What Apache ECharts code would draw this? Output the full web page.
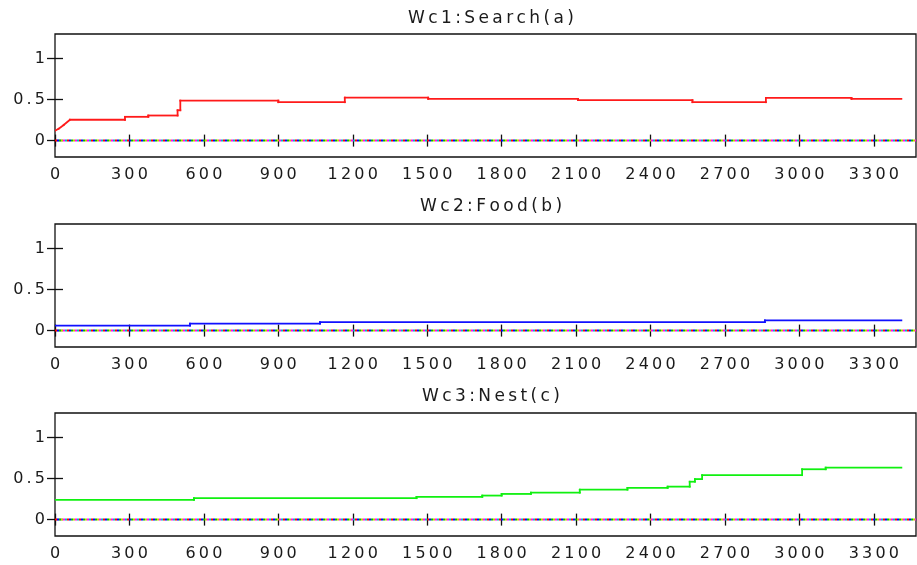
<!DOCTYPE html>
<html>
<head>
<meta charset="utf-8">
<script src="https://cdn.jsdelivr.net/npm/echarts@6/dist/echarts.min.js"></script>
<style>
  html, body { margin: 0; padding: 0; background: #fff; }
  #chart { width: 917px; height: 565px; }
</style>
</head>
<body>
<div id="chart"></div>
<script>
// Panel titles
const panelTitles = ['Wc1:Search(a)', 'Wc2:Food(b)', 'Wc3:Nest(c)'];

// Tick values shown on the axes
const xTicks = [0, 300, 600, 900, 1200, 1500, 1800, 2100, 2400, 2700, 3000, 3300];
const yTicks = [0, 0.5, 1];

// Weight traces, [iteration, weight]; repeated x values are the step jumps
const searchWeight = [
  [0, 0.12], [15, 0.145], [35, 0.19], [60, 0.254], [282, 0.254], [282, 0.29],
  [376, 0.29], [376, 0.306], [494, 0.306], [494, 0.37], [505, 0.37], [505, 0.488],
  [900, 0.488], [900, 0.468], [1168, 0.468], [1168, 0.524], [1504, 0.524], [1504, 0.508],
  [2108, 0.508], [2108, 0.493], [2569, 0.493], [2569, 0.468], [2865, 0.468], [2865, 0.52],
  [3210, 0.52], [3210, 0.508], [3411, 0.508]
];
const foodWeight = [
  [0, 0.06], [544, 0.06], [544, 0.084], [1068, 0.084], [1068, 0.104],
  [2861, 0.104], [2861, 0.124], [3411, 0.124]
];
const nestWeight = [
  [0, 0.241], [560, 0.241], [560, 0.261], [1457, 0.261], [1457, 0.277],
  [1722, 0.277], [1722, 0.293], [1800, 0.293], [1800, 0.313], [1918, 0.313], [1918, 0.329],
  [2115, 0.329], [2115, 0.365], [2307, 0.365], [2307, 0.386], [2469, 0.386], [2469, 0.402],
  [2558, 0.402], [2558, 0.462], [2579, 0.462], [2579, 0.494], [2608, 0.494], [2608, 0.542],
  [3011, 0.542], [3011, 0.614], [3106, 0.614], [3106, 0.634], [3411, 0.634]
];

// The remaining weights stay at zero over the whole run
const otherWeight = [[0, 0], [3470, 0]];
const otherColors = ['#ff0000', '#0000ff', '#00c000', '#d0c000', '#ff00ff', '#00c0c0'];

const traces = [searchWeight, foodWeight, nestWeight];
const traceColors = ['#ff1a1a', '#1010ff', '#10f010'];

const X_MAX = 3470;
const Y_MIN = -0.2, Y_MAX = 1.3;
const gridTops = [34, 224, 413];
const titleTops = [5, 193, 383];
const FONT = 'DejaVu Sans';

// Widen text a little by putting a thin space between characters
const spaced = s => String(s).split('').join('\u2009');

// Split a vertex list into individual segments [x0, y0, x1, y1] so that
// every small step is stroked on its own (no tiny-segment skipping)
const toSegments = pts => pts.slice(1).map((p, k) => [pts[k][0], pts[k][1], p[0], p[1]]);

const grids = [], xAxes = [], yAxes = [], series = [], titles = [];

gridTops.forEach((top, i) => {
  grids.push({
    left: 55, right: 1, top: top, height: 123,
    show: true, borderColor: '#111', borderWidth: 1.3, backgroundColor: '#fff'
  });
  titles.push({
    text: spaced(panelTitles[i]), left: 486, top: titleTops[i], textAlign: 'center',
    textStyle: { fontFamily: FONT, fontSize: 17, fontWeight: 'normal', color: '#1a1a1a' }
  });
  const xCommon = { type: 'value', gridIndex: i, min: 0, max: X_MAX, splitLine: { show: false },
    axisLine: { show: false } };
  xAxes.push(Object.assign({}, xCommon, {
    position: 'bottom',
    axisTick: { inside: true, length: 6, customValues: xTicks, lineStyle: { color: '#111', width: 1.3 } },
    axisLabel: { customValues: xTicks, formatter: v => spaced(v), fontFamily: FONT, fontSize: 16,
      color: '#1a1a1a', margin: 10 }
  }));
  xAxes.push(Object.assign({}, xCommon, {
    position: 'top',
    axisTick: { inside: true, length: 6, customValues: xTicks, lineStyle: { color: '#111', width: 1.3 } },
    axisLabel: { show: false }
  }));
  const yCommon = { type: 'value', gridIndex: i, min: Y_MIN, max: Y_MAX, splitLine: { show: false },
    axisLine: { show: false } };
  yAxes.push(Object.assign({}, yCommon, {
    position: 'left',
    axisTick: { inside: true, length: 8, customValues: yTicks, lineStyle: { color: '#111', width: 1.3 } },
    axisLabel: { customValues: yTicks, formatter: v => spaced(v), fontFamily: FONT, fontSize: 16,
      color: '#1a1a1a', margin: 10 }
  }));
  yAxes.push(Object.assign({}, yCommon, {
    position: 'right',
    axisTick: { inside: true, length: 8, customValues: yTicks, lineStyle: { color: '#111', width: 1.3 } },
    axisLabel: { show: false }
  }));

  // zero-valued weights, drawn as interleaved dashes of several colours
  otherColors.forEach((c, k) => {
    series.push({
      type: 'line', xAxisIndex: 2 * i, yAxisIndex: 2 * i, data: otherWeight,
      showSymbol: false, silent: true, animation: false,
      lineStyle: { color: c, width: 2, type: [2, 10], dashOffset: -2 * k }
    });
  });

  const color = traceColors[i];
  series.push({
    type: 'custom', xAxisIndex: 2 * i, yAxisIndex: 2 * i,
    data: toSegments(traces[i]),
    encode: { x: [0, 2], y: [1, 3] },
    silent: true, animation: false, clip: true,
    renderItem: (params, api) => {
      const a = api.coord([api.value(0), api.value(1)]);
      const b = api.coord([api.value(2), api.value(3)]);
      return {
        type: 'line',
        shape: { x1: a[0], y1: a[1], x2: b[0], y2: b[1] },
        style: { stroke: color, lineWidth: 1.8, lineCap: 'square' }
      };
    }
  });
});

const chart = echarts.init(document.getElementById('chart'), null, { renderer: 'canvas' });
chart.setOption({
  backgroundColor: '#fff',
  animation: false,
  title: titles,
  grid: grids,
  xAxis: xAxes,
  yAxis: yAxes,
  series: series
});
</script>
</body>
</html>
